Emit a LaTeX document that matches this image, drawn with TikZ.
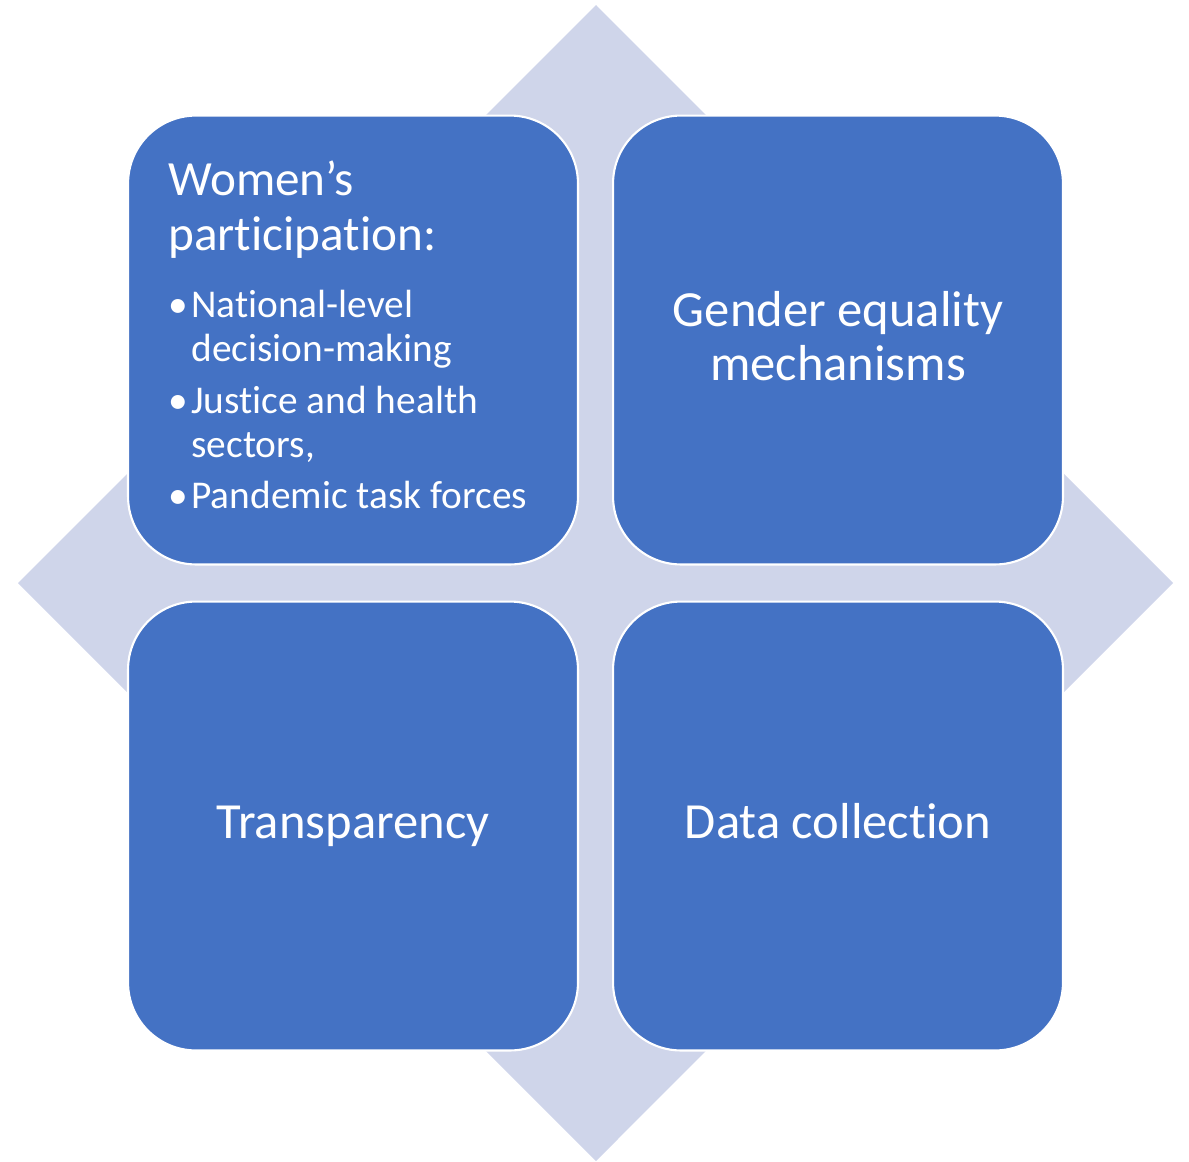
\documentclass[tikz,border=0pt]{standalone}
\usepackage{fontspec}
\setmainfont[Ligatures=NoCommon]{Carlito}
\definecolor{tileblue}{RGB}{68,114,196}
\definecolor{diamondtint}{RGB}{207,213,234}
% font sizes for the tile headings and the bullet lists
\newcommand\headfont{\fontsize{28}{31.3}\selectfont}
\newcommand\tilefont{\fontsize{28.8}{31}\selectfont}
\newcommand\listfont{\fontsize{22.4}{25.6}\selectfont}
% one bullet item with a hanging indent for its wrapped lines
\newcommand\bulletitem[1]{\parbox[t]{8cm}{\listfont\noindent\hangindent=13.1pt\hangafter=1\makebox[13.1pt][l]{•}#1}}
\begin{document}
\begin{tikzpicture}[x=0.02cm,y=-0.02cm,
  tile/.style={draw=white, line width=1.2pt, fill=tileblue, rounded corners=1.36cm,
    minimum width=9cm, minimum height=8.98cm, inner sep=0pt},
  label/.style={text=white, inner sep=0pt}]
\useasboundingbox (0,0) rectangle (1189,1161);

% background diamond
\fill[diamondtint] (596,5) -- (1173,583) -- (596,1161) -- (18,583) -- cycle;

% four tiles
\node[tile] (tl) at (353,340) {};
\node[tile] (tr) at (838,340) {};
\node[tile] (bl) at (353,826) {};
\node[tile] (br) at (838,826) {};

% top-left tile: heading and bullet list
\node[label, anchor=base west] (tlhead) at (168,195)
  {\parbox[t]{8cm}{\headfont Women’s\\participation:}};
\node[label, anchor=base west] (tlitema) at (168,317)
  {\bulletitem{National-level\\decision-making}};
\node[label, anchor=base west] (tlitemb) at (168,413)
  {\bulletitem{Justice and health\\sectors,}};
\node[label, anchor=base west] (tlitemc) at (168,508)
  {\bulletitem{Pandemic task forces}};

% remaining tiles
\node[label, anchor=base] (trtext) at (838,326)
  {\parbox[t]{8cm}{\centering\tilefont Gender equality\\mechanisms}};
\node[label, anchor=base] (bltext) at (353,838) {\tilefont Transparency};
\node[label, anchor=base] (brtext) at (838,838) {\tilefont Data collection};
\end{tikzpicture}
\end{document}
